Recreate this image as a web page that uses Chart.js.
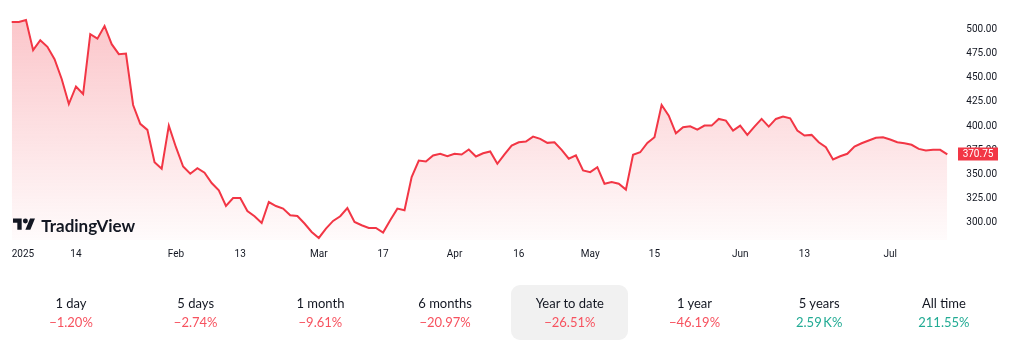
<!DOCTYPE html>
<html>
<head>
<meta charset="utf-8">
<script src="https://cdn.jsdelivr.net/npm/chart.js@4.4.1/dist/chart.umd.min.js"></script>
<style>
  html, body { margin: 0; padding: 0; background: #ffffff; }
  #wrap { position: relative; width: 1024px; height: 359px; overflow: hidden; font-family: Lato, "Noto Sans", sans-serif; }
  #chartBox { position: absolute; left: 0; top: 0; width: 1024px; height: 270px; }
  #logo { position: absolute; left: 13px; top: 215px; height: 20px; display: flex; align-items: center; }
  #logo svg { display: block; }
  #logo span { margin-left: 6px; font-family: Lato, sans-serif; font-weight: 700; font-size: 17px; color: #131722; }
  .cell { position: absolute; top: 285px; width: 117px; height: 55px; border-radius: 9px; text-align: center; }
  .cell.active { background: #f1f1f1; }
  .cell .lbl { position: absolute; left: 0; right: 0; top: 9px; line-height: 19px; font-size: 13px; color: #131722; }
  .cell .val { position: absolute; left: 0; right: 0; top: 28px; line-height: 19px; font-size: 13px; }
  .neg { color: #f7525f; }
  .pos { color: #22ab94; }
</style>
</head>
<body>
<div id="wrap">
  <div id="chartBox"><canvas id="c" width="1024" height="270"></canvas></div>
  <div id="logo">
    <svg width="22.3" height="17.4" viewBox="0 0 36 28"><path fill="#131722" d="M14 22H7V11H0V4h14v18zM28 22h-8l7.5-18h8L28 22z"/><circle fill="#131722" cx="20" cy="8" r="4"/></svg>
    <span>TradingView</span>
  </div>
  <div id="stats"></div>
</div>
<script>
// ---- data ----
const prices = [
  507.5, 507.5, 509.6, 478.4, 488.7, 481.8, 469.1, 448.6, 422.8, 440.9,
  433.1, 494.9, 490.3, 503.4, 484.6, 474.3, 474.9, 421.8, 402.3, 396.1,
  362.8, 356.0, 400.5, 378.2, 358.3, 350.8, 356.6, 351.9, 341.2, 333.6,
  317.5, 325.7, 325.7, 312.3, 306.9, 300.0, 321.6, 317.5, 314.8, 307.9,
  307.2, 299.4, 290.7, 284.5, 294.2, 302.1, 306.9, 315.4, 301.0, 297.6,
  294.9, 294.9, 290.1, 302.8, 314.8, 313.1, 347.3, 364.5, 363.5, 369.7,
  371.4, 368.9, 371.4, 370.7, 375.8, 368.6, 372.0, 373.8, 361.1, 370.7,
  379.9, 383.3, 384.1, 389.2, 386.8, 382.7, 383.3, 375.5, 366.3, 369.7,
  354.2, 352.5, 357.6, 340.5, 342.2, 340.5, 334.4, 370.4, 373.0, 382.7,
  388.5, 421.8, 410.8, 392.6, 398.8, 399.8, 396.4, 400.5, 400.5, 407.4,
  405.7, 395.4, 400.5, 390.9, 399.5, 407.4, 399.5, 407.4, 409.8, 408.0,
  395.4, 390.2, 390.9, 383.3, 378.2, 365.5, 368.9, 371.4, 378.9, 382.3,
  385.1, 387.9, 388.5, 386.1, 383.3, 382.3, 380.7, 376.5, 374.8, 375.5,
  375.5, 370.75
];
const categories = prices.map((_, i) => i); // trading-day slots
const tickIndices = [0, 9, 23, 32, 43, 52, 62, 71, 81, 90, 102, 111, 123];
const tickLabels = ['2025', '14', 'Feb', '13', 'Mar', '17', 'Apr', '16', 'May', '15', 'Jun', '13', 'Jul'];
const yTickValues = [300, 325, 350, 375, 400, 425, 450, 475, 500];
const lastPrice = 370.75;
const periodLabels = ['1 day', '5 days', '1 month', '6 months', 'Year to date', '1 year', '5 years', 'All time'];
const periodValues = ['\u22121.20%', '\u22122.74%', '\u22129.61%', '\u221220.97%', '\u221226.51%', '\u221246.19%', '2.59\u2009K%', '211.55%'];
const periodSign = ['neg', 'neg', 'neg', 'neg', 'neg', 'neg', 'pos', 'pos'];

const stats = document.getElementById('stats');
periodLabels.forEach((l, i) => {
  const d = document.createElement('div');
  d.className = 'cell' + (i === 4 ? ' active' : '');
  const cx = 71 + i * 124.7;
  d.style.left = (cx - 58.5) + 'px';
  d.innerHTML = '<div class="lbl">' + l + '</div><div class="val ' + periodSign[i] + '">' + periodValues[i] + '</div>';
  stats.appendChild(d);
});

const tickMap = {};
tickIndices.forEach((ix, k) => { tickMap[ix] = tickLabels[k]; });

const priceTag = {
  id: 'priceTag',
  afterDraw(chart) {
    const ys = chart.scales.y;
    const ctx = chart.ctx;
    const y = Math.round(ys.getPixelForValue(lastPrice));
    ctx.save();
    ctx.fillStyle = '#f23645';
    ctx.fillRect(958, y - 6.5, 40, 13);
    ctx.fillStyle = '#ffffff';
    ctx.font = '10px Roboto';
    ctx.textAlign = 'center';
    ctx.textBaseline = 'middle';
    ctx.fillText(lastPrice.toFixed(2), 978, y + 0.5);
    ctx.restore();
  }
};

new Chart(document.getElementById('c'), {
  type: 'line',
  data: {
    labels: categories,
    datasets: [{
      data: prices,
      borderColor: '#f23645',
      borderWidth: 2,
      pointRadius: 0,
      tension: 0,
      fill: 'start',
      backgroundColor(ctx) {
        const ca = ctx.chart.chartArea;
        if (!ca) return 'rgba(242,54,69,0.15)';
        const g = ctx.chart.ctx.createLinearGradient(0, ca.top, 0, ca.bottom);
        g.addColorStop(0, 'rgba(242,54,69,0.30)');
        g.addColorStop(1, 'rgba(242,54,69,0.02)');
        return g;
      }
    }]
  },
  options: {
    responsive: false,
    animation: false,
    layout: { padding: { left: 11.7, top: 6, right: 0, bottom: 0 } },
    plugins: { legend: { display: false }, tooltip: { enabled: false } },
    scales: {
      x: {
        type: 'category',
        grid: { display: false, drawTicks: false },
        border: { display: false },
        afterFit(s) { s.height = 30; s.paddingLeft = 0; s.paddingRight = 0; },
        ticks: {
          autoSkip: false,
          maxRotation: 0,
          minRotation: 0,
          align: 'inner',
          padding: 8,
          color: '#131722',
          font: { family: 'Roboto', size: 10 },
          callback(v, i) { return tickMap[i] !== undefined ? tickMap[i] : ''; }
        }
      },
      y: {
        position: 'right',
        min: 282.4,
        max: 524,
        grid: { display: false, drawTicks: false },
        border: { display: false },
        afterFit(s) { s.width = 76.7; s.paddingTop = 0; s.paddingBottom = 0; },
        afterBuildTicks(s) { s.ticks = yTickValues.map(v => ({ value: v })); },
        ticks: {
          padding: 19,
          color: '#131722',
          font: { family: 'Roboto', size: 10 },
          callback(v) { return Number(v).toFixed(2); }
        }
      }
    }
  },
  plugins: [priceTag]
});
</script>
</body>
</html>
